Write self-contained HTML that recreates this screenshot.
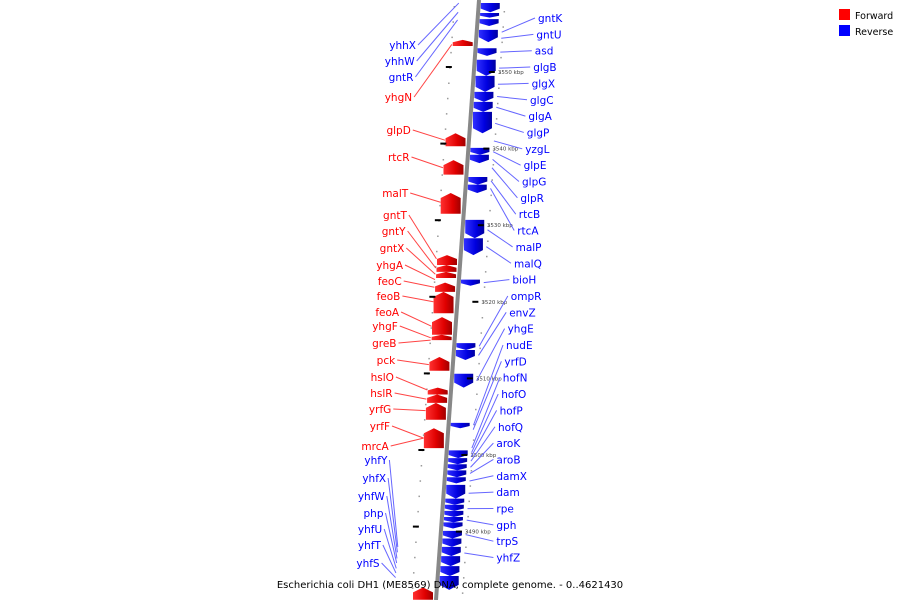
<!DOCTYPE html>
<html><head><meta charset="utf-8"><style>
html,body{margin:0;padding:0;background:#fff;}
svg{display:block;font-family:"DejaVu Sans","Liberation Sans",sans-serif;}
</style></head><body>
<svg id="chart" width="900" height="600" viewBox="0 0 900 600" xmlns="http://www.w3.org/2000/svg">
<defs>
<linearGradient id="axg" x1="0" x2="1"><stop offset="0" stop-color="#ddd"/><stop offset="0.5" stop-color="#777"/><stop offset="1" stop-color="#ccc"/></linearGradient>
<linearGradient id="rg" x1="0" x2="1"><stop offset="0" stop-color="#ff3030"/><stop offset="0.6" stop-color="#e00000"/><stop offset="1" stop-color="#a00000"/></linearGradient>
<linearGradient id="bg" x1="0" x2="1"><stop offset="0" stop-color="#3030ff"/><stop offset="0.6" stop-color="#0000e0"/><stop offset="1" stop-color="#0000a0"/></linearGradient>
</defs>
<g id="genes"></g><g id="ticks"></g><g id="labels"></g>
<line x1="479" y1="0" x2="436" y2="600" stroke="#888" stroke-width="4"/>
<g>
<rect x="839" y="9" width="11" height="11" fill="#f00"/>
<text x="855" y="19" font-size="9.5">Forward</text>
<rect x="839" y="25" width="11" height="11" fill="#00f"/>
<text x="855" y="35" font-size="9.5">Reverse</text>
</g>
<text x="450" y="588" font-size="10" text-anchor="middle">Escherichia coli DH1 (ME8569) DNA, complete genome. - 0..4621430</text>
</svg>
<script>
// data (kbp)
const fwdStart=[3554.2,3542.0,3538.5,3534.2,3526.1,3524.8,3523.9,3522.5,3521.3,3518.0,3515.7,3512.8,3508.8,3507.9,3506.8,3503.5,3482.7];
const fwdEnd=[3553.4,3540.3,3536.6,3531.5,3524.8,3523.9,3523.1,3521.3,3518.5,3515.7,3515.0,3511.0,3507.9,3506.8,3504.6,3500.9,3481.1];
const revStart=[3559.0,3557.7,3556.9,3555.5,3553.1,3551.6,3549.5,3547.4,3546.1,3544.8,3540.1,3539.2,3536.3,3535.3,3530.7,3528.3,3522.9,3514.6,3513.7,3510.6,3504.2,3500.6,3499.6,3498.8,3498.0,3497.1,3496.1,3494.3,3493.5,3492.7,3491.9,3491.2,3490.1,3489.1,3488.0,3486.8,3485.5,3484.2];
const revEnd=[3557.8,3557.1,3556.0,3553.9,3552.1,3549.5,3547.4,3546.1,3544.8,3542.0,3539.2,3538.1,3535.3,3534.2,3528.3,3526.1,3522.1,3513.7,3512.4,3508.8,3503.5,3499.6,3498.8,3498.0,3497.1,3496.3,3494.3,3493.5,3492.7,3491.9,3491.2,3490.4,3489.1,3488.0,3486.8,3485.5,3484.2,3482.4];
const tickKbp=[3550,3540,3530,3520,3510,3500,3490];
const tickLabels=["3550 kbp","3540 kbp","3530 kbp","3520 kbp","3510 kbp","3500 kbp","3490 kbp"];
const rightNames=["gntK","gntU","asd","glgB","glgX","glgC","glgA","glgP","yzgL","glpE","glpG","glpR","rtcB","rtcA","malP","malQ","bioH","ompR","envZ","yhgE","nudE","yrfD","hofN","hofO","hofP","hofQ","aroK","aroB","damX","dam","rpe","gph","trpS","yhfZ"];
const rightTarget=[3555.2,3554.4,3552.6,3550.5,3548.4,3546.8,3545.4,3543.3,3541.0,3539.6,3538.6,3537.5,3535.8,3534.8,3529.4,3527.2,3522.5,3514.2,3513.0,3509.7,3503.9,3503.3,3500.9,3500.3,3499.8,3499.2,3498.4,3497.6,3496.6,3495.0,3493.0,3491.5,3489.6,3487.2];
const leftNames=["yhhX","yhhW","gntR","yhgN","glpD","rtcR","malT","gntT","gntY","gntX","yhgA","feoC","feoB","feoA","yhgF","greB","pck","hslO","hslR","yrfG","yrfF","mrcA","yhfY","yhfX","yhfW","php","yhfU","yhfT","yhfS"];
const leftColors=["b","b","b","r","r","r","r","r","r","r","r","r","r","r","r","r","r","r","r","r","r","r","b","b","b","b","b","b","b"];
const leftTarget=[3559.0,3557.8,3556.8,3553.6,3541.1,3537.5,3533.0,3525.6,3524.4,3523.6,3522.9,3521.9,3520.0,3516.8,3515.3,3515.0,3511.8,3508.5,3507.3,3505.8,3502.2,3502.2,3488.0,3487.3,3486.5,3485.9,3485.2,3484.6,3484.0];

const NS="http://www.w3.org/2000/svg";
const yOf=k=>72+(3550-k)*7.66;
const axX=y=>479-y*0.0717;
const col=c=>c==="r"?"#f00":"#00f";
function mk(tag,attrs,parent){const e=document.createElementNS(NS,tag);for(const k in attrs)e.setAttribute(k,attrs[k]);parent.appendChild(e);return e;}
const G=document.getElementById('genes'),T=document.getElementById('ticks'),L=document.getElementById('labels');

// dots
for(let y=6;y<600;y+=15.3){
  const d1=mk('rect',{x:axX(y)-25,y:y,width:1.5,height:1.5,fill:'#999'},T);
  
  
  const d2=mk('rect',{x:axX(y)+25,y:y+5,width:1.5,height:1.5,fill:'#999'},T);
  
  
}
tickKbp.forEach((k,i)=>{
  const y=yOf(k);
  const a=mk('rect',{x:axX(y)-28,y:y-6,width:6,height:2,fill:'#000'},T);
  
  
  const b=mk('rect',{x:axX(y)+15,y:y-1,width:6,height:2,fill:'#000'},T);
  
  
  const t=mk('text',{x:axX(y)+24,y:y+2,'font-size':'5.5',fill:'#444'},T);
  
  
  t.textContent=tickLabels[i];
});
fwdStart.forEach((s,i)=>{
  const y0=yOf(s),y1=yOf(fwdEnd[i]),h=y1-y0,p=Math.min(5,h*0.4);
  const xr=axX(y1)-3,xl=xr-20;
  const e=mk('polygon',{points:`${xl},${y1} ${xl},${y0+p} ${(xl+xr)/2},${y0} ${xr},${y0+p} ${xr},${y1}`,fill:'url(#rg)'},G);
  
  
});
revStart.forEach((s,i)=>{
  const y0=yOf(s),y1=yOf(revEnd[i]),h=y1-y0,p=Math.min(5,h*0.4);
  const xl=axX(y0)+2,xr=xl+19;
  const e=mk('polygon',{points:`${xl},${y0} ${xr},${y0} ${xr},${y1-p} ${(xl+xr)/2},${y1} ${xl},${y1-p}`,fill:'url(#bg)'},G);
  
  
});
rightNames.forEach((n,i)=>{
  const ly=22+i*16.35, lx=538-Math.min(i,26)*1.6;
  const ty=yOf(rightTarget[i]),tx=axX(ty)+25;
  const l=mk('line',{x1:tx,y1:ty,x2:lx-3,y2:ly-4,stroke:'#66f','stroke-width':1},L);
  
  
  const t=mk('text',{x:lx,y:ly,'font-size':'10.5',fill:'#00f'},L);
  
  
  t.textContent=n;
});
const leftY=[49,65,81,101,134,161,197,219,235,252,269,285,300,316,330,347,364,381,397,413,430,450,464,482,500,517,533,549,567];
leftNames.forEach((n,i)=>{
  const ly=leftY[i], lx=416-i*1.3;
  const ty=yOf(leftTarget[i]);
  const tx=leftColors[i]==="r"?axX(ty)-24:axX(ty)-22-(i<3?-2:20);
  const l=mk('line',{x1:lx+2,y1:ly-4,x2:tx,y2:ty,stroke:leftColors[i]==="r"?'#f44':'#66f','stroke-width':1},L);
  
  
  const t=mk('text',{x:lx,y:ly,'font-size':'10.5',fill:col(leftColors[i]),'text-anchor':'end'},L);
  
  
  t.textContent=n;
});
</script>
</body></html>
